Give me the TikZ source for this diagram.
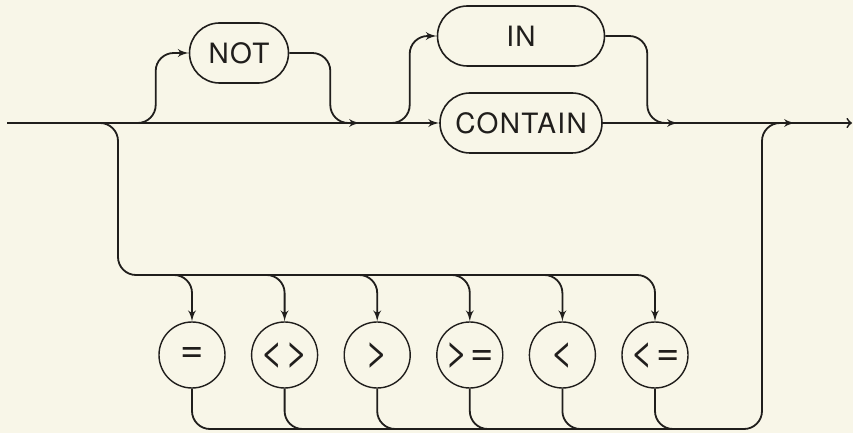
\documentclass[tikz,border=0pt]{standalone}
\usepackage{fontspec}
\setmainfont{TeX Gyre Heros}[LetterSpace=5]
\usetikzlibrary{arrows,calc,positioning,shapes.misc}
\definecolor{paper}{RGB}{248,246,232}
\definecolor{ink}{RGB}{32,30,28}
\tikzset{
    keyword/.style = {draw, rounded rectangle, 
        minimum height=30pt, inner sep=0pt, line width=0.8pt,
        font=\fontsize{14}{16}\selectfont},
    relop/.style = {draw, circle, minimum size=33pt, inner sep=0pt,
        line width=0.7pt, node distance=46.3pt,
        font=\fontsize{20}{22}\selectfont},
    rail/.style = {draw, rounded corners=9pt}
}

\begin{document}
\begin{tikzpicture}[x=0.5pt, y=-0.5pt, >=latex', line width=0.9pt, ink]
        \fill[paper] (0,0) rectangle (853,433);
        % main line
        \coordinate (start) at (7,123);
        \coordinate (split) at (85,123);
        \coordinate (b1) at (128,123);
        \coordinate (j1) at (360,123);
        \coordinate (b2) at (378,123);
        \coordinate (j2) at (678,123);
        \coordinate (j3) at (795,123);
        \coordinate (end) at (852,123);
        \node [keyword, minimum width=49.5pt] (not) at (239,53) {NOT};
        \node [keyword, minimum width=81pt] (contain) at (521,123) {CONTAIN};
        \node [keyword, minimum width=83.5pt, above of=contain, node distance=43.5pt] (in) {IN};
        \draw [->] (start) -- (contain);
        \draw [-to] (contain) -- (end);
        \draw [rail, ->] (b1) -| ([xshift=-16.5pt]not.west) -- (not.west);
        \draw [rail, ->] (not.east) -- ++(41,0) |- (j1);
        \draw [rail, ->] (b2) -| ([xshift=-13.5pt]in.west) -- (in.west);
        \draw [rail, ->] (in.east) -- ++(42,0) |- (j2);
        % relational operators
        \node [relop] (eq) at (192,355) {=};
        \node [relop, right of=eq] (ne) {<>};
        \node [relop, right of=ne] (gt) {>};
        \node [relop, right of=gt] (ge) {>=};
        \node [relop, right of=ge] (lt) {<};
        \node [relop, right of=lt] (le) {<=};
        \coordinate (tl) at (118,275);
        \coordinate (rb) at (762,429);
        \draw [rail, ->] (split) -| (tl) -| (le.north);
        \draw [rail, ->] ([xshift=-14pt]eq.north |- tl) -| (eq.north);
        \draw [rail, ->] ([xshift=-14pt]ne.north |- tl) -| (ne.north);
        \draw [rail, ->] ([xshift=-14pt]gt.north |- tl) -| (gt.north);
        \draw [rail, ->] ([xshift=-14pt]ge.north |- tl) -| (ge.north);
        \draw [rail, ->] ([xshift=-14pt]lt.north |- tl) -| (lt.north);
        \draw [rail, ->] (eq.south) |- (rb) |- (j3);
        \draw [rail] (ne.south) |- ([xshift=14pt]ne.south |- rb);
        \draw [rail] (gt.south) |- ([xshift=14pt]gt.south |- rb);
        \draw [rail] (ge.south) |- ([xshift=14pt]ge.south |- rb);
        \draw [rail] (lt.south) |- ([xshift=14pt]lt.south |- rb);
        \draw [rail] (le.south) |- ([xshift=14pt]le.south |- rb);
\end{tikzpicture}
\end{document}
